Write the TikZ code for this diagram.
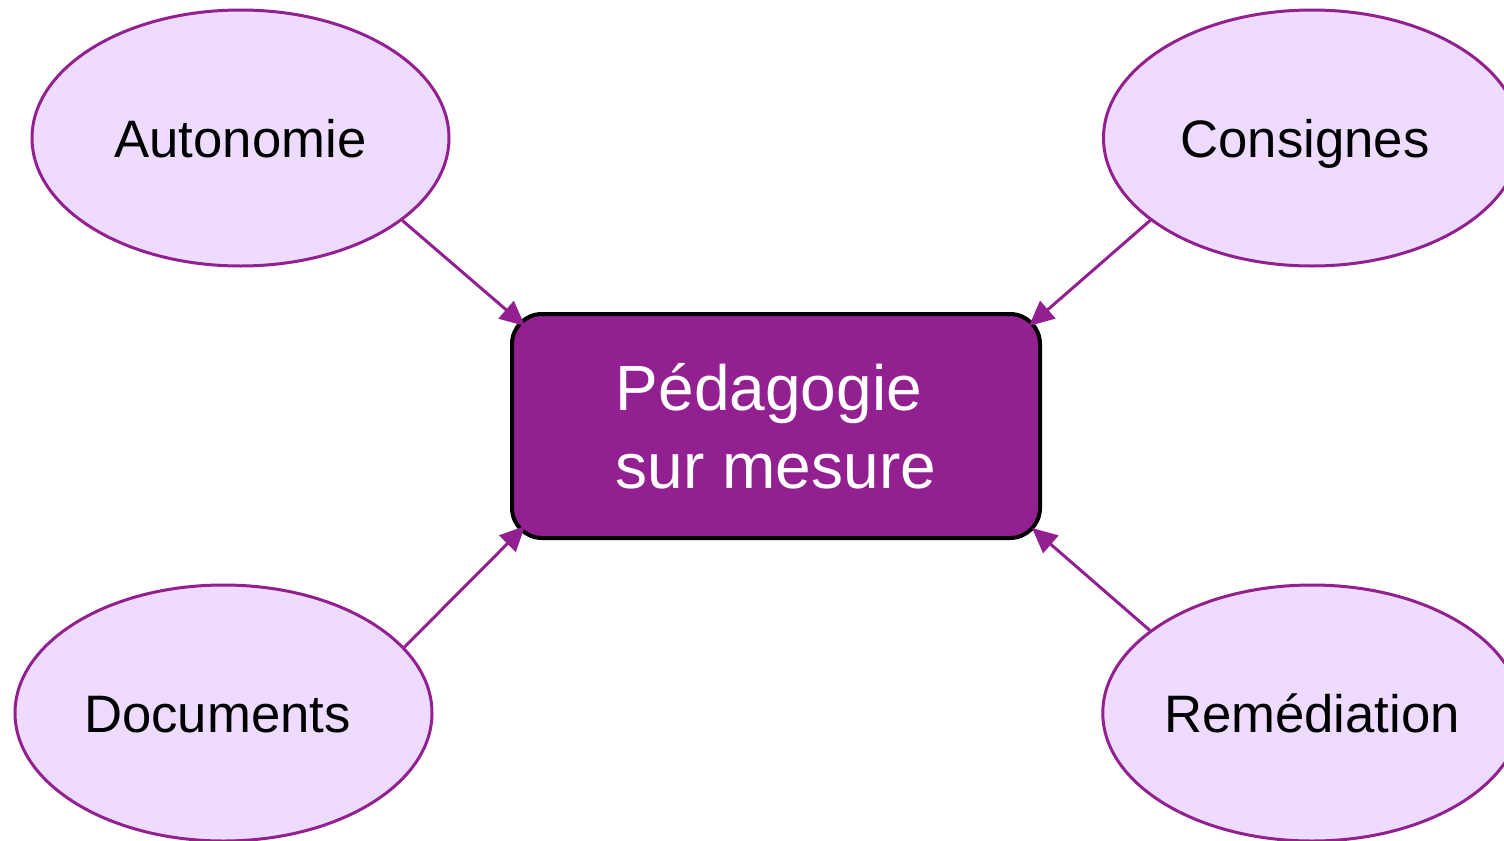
\documentclass[tikz,border=0pt]{standalone}
\usepackage{fontspec}
\setmainfont{Liberation Sans}
\usetikzlibrary{shapes.geometric,arrows.meta}
\definecolor{purp}{RGB}{146,32,144}
\definecolor{lav}{RGB}{237,220,255}
\tikzset{
  bubble/.style={ellipse, draw=purp, line width=3bp, fill=lav, minimum width=417bp, minimum height=256bp, inner sep=0pt, text height=38bp, text depth=0bp, font=\fontsize{52.7bp}{63bp}\selectfont},
  centrebox/.style={rectangle, rounded corners=30bp, draw=black, line width=4bp, fill=purp, minimum width=528bp, minimum height=224bp, inner sep=0pt, text=white, align=left, font=\fontsize{64bp}{78bp}\selectfont},
  link/.style={draw=purp, line width=3bp, -{Triangle[length=25bp,width=23bp]}}
}
\begin{document}
\begin{tikzpicture}[x=1bp,y=-1bp]
\useasboundingbox (0,0) rectangle (1504,840);
\node[centrebox] (box) at (776,426) {Pédagogie\\sur mesure};
\node[bubble] (aut) at (240.5,138) {Autonomie};
\node[bubble] (con) at (1312,138) {Consignes\kern14bp};
\node[bubble] (doc) at (223.5,713) {Documents\kern12bp};
\node[bubble] (rem) at (1312,713) {Remédiation};
\coordinate (tnw) at ([shift={(15bp,-14bp)}]box.north west);
\coordinate (tne) at ([shift={(-13bp,-14bp)}]box.north east);
\coordinate (tsw) at ([shift={(15bp,14bp)}]box.south west);
\coordinate (tse) at ([shift={(-10bp,12bp)}]box.south east);
\draw[link] (aut.-27) -- (tnw);
\draw[link] (con.-153) -- (tne);
\draw[link] (doc.20) -- (tsw);
\draw[link] (rem.153) -- (tse);
\end{tikzpicture}
\end{document}
